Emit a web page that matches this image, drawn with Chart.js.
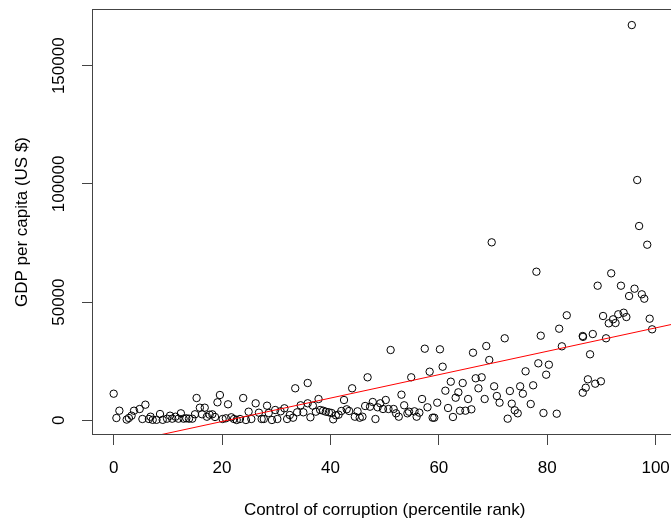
<!DOCTYPE html>
<html>
<head>
<meta charset="utf-8">
<script src="https://cdn.jsdelivr.net/npm/chart.js@4/dist/chart.umd.min.js"></script>
<style>
  html, body { margin: 0; padding: 0; background: #fff; overflow: hidden; }
  canvas { display: block; }
</style>
</head>
<body>
<canvas id="chart" width="683" height="519"></canvas>
<script>
/* Control of corruption vs GDP per capita — scatter + linear fit */

// percentile rank of control of corruption
const corruptionRank = [
  0, 0.5, 1.05, 2.4, 2.8, 3.3, 3.75, 4.8, 5.85, 5.3, 6.5, 6.8, 7.2, 7.9, 8.55, 9.05, 9.85, 10.4, 10.8, 11.4,
  11.95, 12.4, 12.9, 13.4, 13.9, 14.5, 15.0, 15.3, 15.9, 16.8, 16.3, 17.2, 17.7, 18.2, 18.7, 19.15, 19.6, 20.1, 20.7, 21.1,
  21.7, 22.2, 22.7, 23.3, 23.9, 24.4, 24.9, 25.4, 26.2, 26.8, 27.3, 27.7, 28.3, 28.6, 29.2, 29.8, 30.2, 30.8, 31.5, 32.0,
  32.5, 33.1, 33.5, 33.85, 34.5, 35.0, 35.8, 35.8, 36.3, 36.75, 37.3, 37.8, 38.1, 38.65, 39.15, 39.7, 40.2, 40.5, 41.0, 41.5,
  42.0, 42.5, 43.0, 43.45, 44.0, 44.5, 45.0, 45.4, 45.9, 46.4, 46.85, 47.3, 47.8, 48.3, 48.7, 49.2, 49.7, 50.2, 50.7, 51.1,
  51.65, 52.1, 52.6, 53.1, 53.6, 54.2, 54.5, 54.9, 55.5, 55.9, 56.4, 56.9, 57.4, 57.9, 58.3, 58.85, 59.15, 59.7, 60.2, 60.7,
  61.2, 61.7, 62.2, 62.6, 63.1, 63.6, 63.9, 64.4, 64.9, 65.4, 66.0, 66.3, 66.8, 67.3,
  67.9, 68.45, 68.75, 69.3, 69.75, 70.2, 70.7, 71.2, 72.15, 72.7, 73.1, 73.45, 74.0, 74.55, 75.0, 75.5, 76.0, 76.95, 77.4, 78.0,
  78.35, 78.8, 79.3, 79.8, 80.3, 81.75, 82.2, 82.7, 83.6, 86.55, 86.6, 86.55, 87.1, 87.5, 87.9, 88.4, 88.85, 89.3, 89.9, 90.3,
  90.85, 91.35, 91.8, 92.15, 92.6, 93.1, 93.6, 94.1, 94.6, 95.1, 95.6, 96.1, 96.6, 96.95, 97.45, 97.9, 98.45, 98.9, 99.35
];

// GDP per capita, US $
const gdpPerCapita = [
  11250, 970, 4060, 300, 970, 1950, 4060, 4780, 6600, 550, 550, 1520, 200, 200, 2660, 200, 680, 1950, 680, 1520,
  680, 2960, 680, 850, 680, 680, 2540, 9430, 5330, 5330, 2540, 1520, 2370, 2540, 1400, 7610, 10700, 550, 850, 6770,
  1270, 550, 130, 550, 9430, 130, 3640, 550, 7190, 3220, 550, 550, 6180, 3090, 130, 4360, 550, 3800, 5080, 550,
  2240, 1100, 13540, 3380, 6350, 3380, 15780, 7190, 1270, 6180, 3640, 9010, 4360, 4060, 3640, 3380, 3090, 420, 2110, 2370,
  3930, 8590, 4650, 3930, 13540, 1520, 3800, 1100, 1520, 6050, 18190, 5750, 7740, 550, 5500, 7190, 4780, 8590, 4780, 29740,
  4780, 2960, 1520, 10830, 6350, 2960, 3640, 18190, 3800, 1520, 3220, 9010, 30290, 5500, 20560, 1100, 1100, 7450, 30030, 22670,
  12520, 5200, 16330, 1400, 9560, 11840, 4060, 15780, 4060, 9010, 4650, 28600, 17770, 13540,
  18190, 9010, 31430, 25510, 75290, 14380, 10280, 7450, 34690, 680, 12390, 7020, 4230, 2960, 14380, 11250, 20730, 6890, 14800, 62860,
  24110, 35790, 3090, 19290, 23520, 2790, 38750, 31300, 44420, 35660, 35300, 11670, 13790, 17340, 27920, 36500, 15480, 56940, 16500, 44120,
  34690, 41030, 62180, 42720, 41160, 44840, 56940, 45510, 43690, 52580, 167200, 55670, 101650, 82190, 53300, 51440, 74280, 42980, 38490
];

// least-squares fit (abline)
const fitIntercept = -10400;
const fitSlope = 495;

const xLimits = [-4, 104];
const yLimits = [-6220, 174000];
const xTicks = [0, 20, 40, 60, 80, 100];
const yTicks = [0, 50000, 100000, 150000];

const FONT = "'Liberation Sans', Arial, sans-serif";
const frameColor = '#444';

const points = corruptionRank.map((x, i) => ({ x, y: gdpPerCapita[i] }));
const fitLine = xLimits.map(x => ({ x, y: fitIntercept + fitSlope * x }));

// box round the plot region, like R's box()
const frameBox = {
  id: 'frameBox',
  afterDatasetsDraw(chart) {
    const { ctx, chartArea: a } = chart;
    ctx.save();
    ctx.strokeStyle = frameColor;
    ctx.lineWidth = 1;
    ctx.strokeRect(a.left + 0.5, a.top + 0.5, a.right - a.left - 1, a.bottom - a.top - 1);
    ctx.restore();
  }
};

new Chart(document.getElementById('chart'), {
  type: 'scatter',
  data: {
    datasets: [
      {
        type: 'line',
        data: fitLine,
        borderColor: '#ff0000',
        borderWidth: 1,
        pointRadius: 0,
        fill: false,
      },
      {
        data: points,
        pointStyle: 'circle',
        pointRadius: 3.7,
        pointBorderWidth: 1,
        pointBorderColor: '#000',
        pointBackgroundColor: 'rgba(0,0,0,0)',
        pointHoverRadius: 3.7,
      },
    ],
  },
  plugins: [frameBox],
  options: {
    responsive: false,
    animation: false,
    events: [],
    layout: { padding: { top: 9, right: 0, bottom: 0, left: 0 } },
    plugins: { legend: { display: false }, tooltip: { enabled: false } },
    scales: {
      x: {
        type: 'linear',
        min: xLimits[0],
        max: xLimits[1],
        afterBuildTicks: s => { s.ticks = xTicks.map(v => ({ value: v })); },
        afterFit: s => { s.height = 84; },
        border: { display: false },
        grid: { drawOnChartArea: false, drawTicks: true, tickLength: 10, color: frameColor, tickColor: frameColor },
        ticks: { color: '#000', padding: 13, maxRotation: 0, font: { family: FONT, size: 17 } },
        title: {
          display: true,
          text: 'Control of corruption (percentile rank)',
          color: '#000',
          padding: { top: 0, bottom: 0 },
          font: { family: FONT, size: 17, lineHeight: 1 },
        },
      },
      y: {
        type: 'linear',
        min: yLimits[0],
        max: yLimits[1],
        afterBuildTicks: s => { s.ticks = yTicks.map(v => ({ value: v })); },
        afterFit: s => { s.width = 92; },
        border: { display: false },
        grid: { drawOnChartArea: false, drawTicks: true, tickLength: 10, color: frameColor, tickColor: frameColor },
        ticks: {
          color: '#000',
          minRotation: 90,
          maxRotation: 90,
          crossAlign: 'center',
          padding: -6,
          font: { family: FONT, size: 17 },
          callback: v => String(v),
        },
        title: {
          display: true,
          text: 'GDP per capita (US $)',
          color: '#000',
          padding: { top: 13.5, bottom: 0 },
          font: { family: FONT, size: 17, lineHeight: 1 },
        },
      },
    },
  },
});
</script>
</body>
</html>
